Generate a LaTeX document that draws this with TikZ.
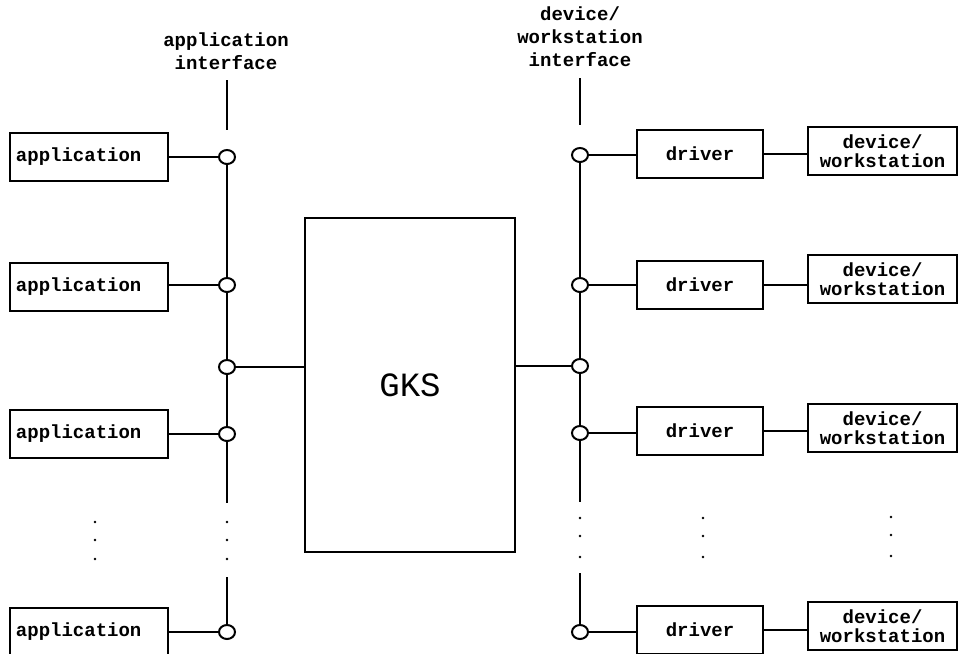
\documentclass[tikz,border=0pt]{standalone}
\usepackage{fontspec}
\setmonofont{Liberation Mono}
\usetikzlibrary{shapes.geometric,calc}

\begin{document}
\begin{tikzpicture}[
    x=1pt, y=-1pt,
    line width=1.7pt,
    font=\ttfamily\bfseries\fontsize{19}{23}\selectfont,
    box/.style={draw, minimum height=48pt, inner sep=0pt},
    appbox/.style={box, minimum width=158pt, text width=146pt, align=left},
    drvbox/.style={box, minimum width=126pt},
    devbox/.style={box, minimum width=149pt, align=center,
      font=\ttfamily\bfseries\fontsize{19}{19.5}\selectfont},
    port/.style={draw, ellipse, line width=2pt, fill=white, minimum width=16pt, minimum height=14pt, inner sep=0pt}
  ]
    \useasboundingbox (0,0) rectangle (958,653);

    % kernel
    \node[draw, minimum width=210pt, minimum height=334pt,
      font=\ttfamily\fontsize{34}{40}\selectfont] (gks) at (410,385) {GKS};

    % application side
    \node[align=center] (applbl) at (226,51) {application\\interface};
    \coordinate (ltop) at (227,80);
    \coordinate (ltopend) at (227,130);
    \coordinate (lbreak) at (227,503);
    \coordinate (lresume) at (227,577);
    \foreach \n/\y in {1/157,2/285,3/367,4/434,5/632} {
      \node[port] (lp\n) at (227,\y) {};
    }
    \foreach \n/\y in {1/157,2/287,3/434,4/632} {
      \node[appbox] (app\n) at (89,\y) {application};
    }
    \draw (ltop) -- (ltopend);
    \draw (lp1) -- (lp2) -- (lp3) -- (lp4) -- (lbreak);
    \draw (lresume) -- (lp5);
    \foreach \a/\p in {1/1,2/2,3/4,4/5} {
      \draw (lp\p) -- (lp\p -| app\a.east);
    }
    \draw (lp3) -- (lp3 -| gks.west);

    % device side
    \node[align=center] (devlbl) at (580,37) {device/\\workstation\\interface};
    \coordinate (rtop) at (580,78);
    \coordinate (rtopend) at (580,125);
    \coordinate (rbreak) at (580,502);
    \coordinate (rresume) at (580,573);
    \foreach \n/\y in {1/155,2/285,3/366,4/433,5/632} {
      \node[port] (rp\n) at (580,\y) {};
    }
    \foreach \n/\y/\z in {1/154/151,2/285/279,3/431/428,4/630/626} {
      \node[drvbox] (drv\n) at (700,\y) {driver};
      \node[devbox] (dev\n) at (882.5,\z) {device/\\workstation};
      \draw (drv\n) -- (drv\n -| dev\n.west);
    }
    \draw (rtop) -- (rtopend);
    \draw (rp1) -- (rp2) -- (rp3) -- (rp4) -- (rbreak);
    \draw (rresume) -- (rp5);
    \foreach \d/\p in {1/1,2/2,3/4,4/5} {
      \draw (rp\p) -- (rp\p -| drv\d.west);
    }
    \draw (rp3) -- (rp3 -| gks.east);

    % continuation dots
    \foreach \y in {522,540,559} {
      \fill (95,\y) circle (1.3pt);
      \fill (227,\y) circle (1.3pt);
    }
    \foreach \y in {518,536,557} {
      \fill (580,\y) circle (1.3pt);
      \fill (703,\y) circle (1.3pt);
      \fill (891,\y-1) circle (1.3pt);
    }
  \end{tikzpicture}
\end{document}
